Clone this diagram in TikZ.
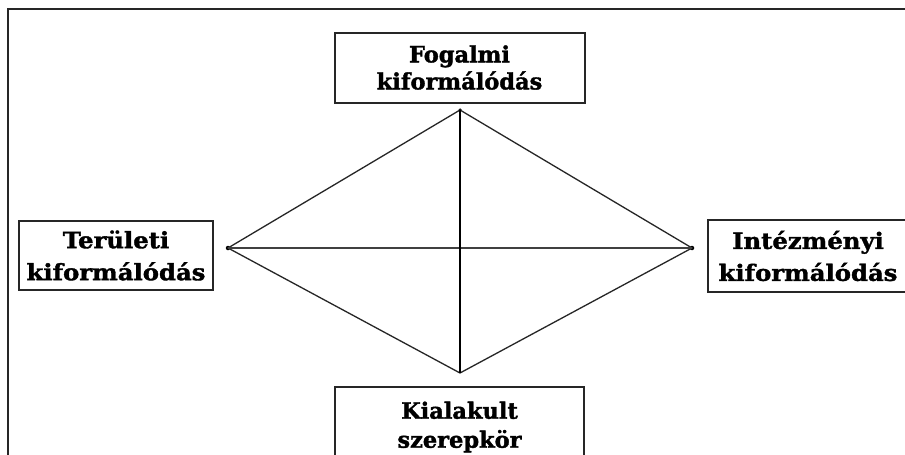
\documentclass[tikz,border=0pt]{standalone}
\usepackage{fontspec}
\newfontfamily\lblfont{DejaVu Serif}[BoldFeatures={FakeBold=1.6}]
\newfontfamily\lblwide{DejaVu Serif}[FakeStretch=1.08, BoldFeatures={FakeBold=1.6}]
\begin{document}
\begin{tikzpicture}[x=1pt,y=-1pt,
  box/.style={draw=black!85, line width=2pt, inner sep=0pt, align=center},
  toptext/.style={font=\lblfont\bfseries\fontsize{22.5}{27}\selectfont},
  sidetext/.style={font=\lblwide\bfseries\fontsize{22.5}{32}\selectfont},
  bottext/.style={font=\lblfont\bfseries\fontsize{22.5}{29}\selectfont},
  frameline/.style={draw=black!85, line width=1.8pt},
  diag/.style={draw=black!85, line width=1.3pt},
  hline/.style={draw=black!75, line width=1.6pt},
  vline/.style={draw=black, line width=2.4pt},
  vdot/.style={circle, fill=black, inner sep=0pt, minimum size=4.5pt}]
\useasboundingbox (0,0) rectangle (905,455);
\clip (0,0) rectangle (905,455);
\fill[white] (0,0) rectangle (905,455);
% frame (top and left)
\coordinate (fbl) at (8,470);
\coordinate (ftl) at (8,9);
\coordinate (ftr) at (920,9);
\draw[frameline] (fbl) -- (ftl) -- (ftr);
% boxes
\node[box, toptext, minimum width=250pt, minimum height=70pt] (fog) at (459.5,67.5) {Fogalmi\\kiformálódás};
\node[box, sidetext, minimum width=194pt, minimum height=69pt] (ter) at (116,255.5) {Területi\\kiformálódás};
\node[box, sidetext, minimum width=200pt, minimum height=72pt] (int) at (808,256) {Intézményi\\kiformálódás};
\node[box, bottext, minimum width=249pt, minimum height=80pt] (kia) at (459.5,427) {Kialakult\\szerepkör};
% diamond vertices
\node[vdot, minimum size=3.5pt] (T) at (460,110) {};
\node[vdot] (L) at (228,248) {};
\node[vdot] (R) at (692,248) {};
\coordinate (B) at (460,373);
% diamond edges
\draw[diag] (L.center) -- (T.center) -- (R.center) -- (B) -- cycle;
\draw[hline] (L.center) -- (R.center);
\draw[vline] (T.center) -- (B);
\end{tikzpicture}
\end{document}
